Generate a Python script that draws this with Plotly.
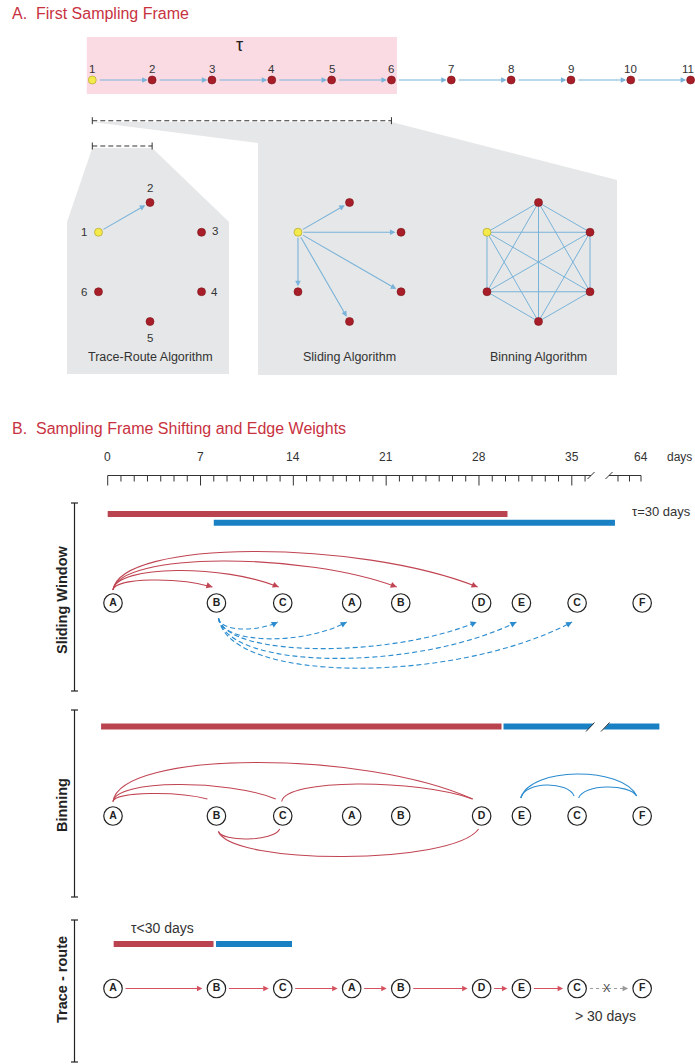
import math
import plotly.graph_objects as go

W, H = 695, 1064
FONT = "Liberation Sans, Arial, sans-serif"

# ---------------- data ----------------
frame_labels = ["1", "2", "3", "4", "5", "6", "7", "8", "9", "10", "11"]
tau_window_size = 6
algo_titles = ["Trace-Route Algorithm", "Sliding Algorithm", "Binning Algorithm"]
algo_node_labels = ["1", "2", "3", "4", "5", "6"]
trace_route_edges = [(0, 1)]
sliding_edges = [(0, 1), (0, 2), (0, 3), (0, 4), (0, 5)]
binning_edges = [(i, j) for i in range(6) for j in range(i + 1, 6)]

ruler_label_days = [0, 7, 14, 21, 28, 35, 64]
ruler_tick_days_pre = list(range(0, 37))
ruler_tick_days_post = [62, 63, 64]

seq_labels = ["A", "B", "C", "A", "B", "D", "E", "C", "F"]
seq_days = [0.4, 8.2, 13.2, 18.4, 22.1, 28.2, 31.2, 35.4, 64.1]

sw_frames_days = [(0.0, 30.15), (8.0, 59.6)]          # red frame, blue frame
sw_red_source, sw_red_targets = 0, [1, 2, 4, 5]
sw_blue_source, sw_blue_targets = 1, [2, 3, 5, 6, 7]

bin_frames_days = [(-0.5, 29.7), (29.85, 65.6)]
bin_red_upper = [(0, 1), (0, 2), (0, 5), (2, 5)]
bin_red_lower = [(1, 2), (1, 5)]
bin_blue_upper = [(6, 7), (7, 8), (6, 8)]

tr_frames_days = [(0.45, 7.98), (8.17, 13.9)]
tr_links = [(0, 1), (1, 2), (2, 3), (3, 4), (4, 5), (5, 6), (6, 7)]
tr_broken_link = (7, 8)

# ---------------- style ----------------
RED_TITLE = "#c8323f"
NODE_RED = "#a81e28"
YELLOW = "#f4ea4c"
LIGHT_BLUE = "#79b3d9"
GREY_POLY = "#e6e7e8"
PINK = "#fadbe4"
BAR_RED = "#b9444f"
BAR_BLUE = "#1a80c4"
ARC_RED = "#c04452"
ARC_BLUE = "#2b8ccf"
TR_RED = "#d4525f"
TXT = "#333333"


def day_x(d):
    if d <= 36:
        return 107.7 + 13.26 * d
    if d >= 62:
        return 641.0 - 11.5 * (64 - d)
    return 585.0 + (d - 36) * (618.0 - 585.0) / 26.0


shapes = []
ann = []
fig = go.Figure()


def add_text(x, y, text, size, color=TXT, xanchor="center", yanchor="middle", angle=0):
    ann.append(dict(x=x, y=y, xref="x", yref="y", text=text, showarrow=False,
                    font=dict(size=size, color=color, family=FONT),
                    xanchor=xanchor, yanchor=yanchor, textangle=angle))


def add_arrow(x0, y0, x1, y1, color, width=1.1, size=1.0, head=2):
    ann.append(dict(x=x1, y=y1, ax=x0, ay=y0, xref="x", yref="y", axref="x", ayref="y",
                    text="", showarrow=True, arrowhead=head, arrowsize=size,
                    arrowwidth=width, arrowcolor=color, standoff=0, startstandoff=0))


def add_line(x0, y0, x1, y1, color, width=1.0, dash="solid", layer="above"):
    shapes.append(dict(type="line", x0=x0, y0=y0, x1=x1, y1=y1, xref="x", yref="y",
                       line=dict(color=color, width=width, dash=dash), layer=layer))


def add_poly(points, fill, layer="below"):
    p = "M " + " L ".join(f"{x},{y}" for x, y in points) + " Z"
    shapes.append(dict(type="path", path=p, xref="x", yref="y", fillcolor=fill,
                       line=dict(width=0), layer=layer))


def add_rect(x0, y0, x1, y1, fill, layer="below"):
    shapes.append(dict(type="rect", x0=x0, y0=y0, x1=x1, y1=y1, xref="x", yref="y",
                       fillcolor=fill, line=dict(width=0), layer=layer))


def add_curve(x0, y0, x1, y1, extreme, color, width=1.1, dash="solid", a=0.05, b=0.3, arrow=False):
    yc = (extreme - 0.125 * (y0 + y1)) / 0.75
    dxs = x1 - x0
    c1x, c2x = x0 + a * dxs, x1 - b * dxs
    shapes.append(dict(type="path", xref="x", yref="y", layer="below",
                       path=f"M {x0},{y0} C {c1x},{yc} {c2x},{yc} {x1},{y1}",
                       line=dict(color=color, width=width, dash=dash)))
    if arrow:
        tx, ty = x1 - c2x, y1 - yc
        n = math.hypot(tx, ty)
        add_arrow(x1 - tx / n * 6, y1 - ty / n * 6, x1, y1, color, width=width, size=1.1)


def bracket_h(x0, x1, y, color="#333", dash="5px,3px"):
    add_line(x0, y, x1, y, color, 1.1, dash)
    add_line(x0, y - 3.5, x0, y + 3.5, color, 1.0)
    add_line(x1, y - 3.5, x1, y + 3.5, color, 1.0)


def bracket_v(x, y0, y1):
    add_line(x, y0, x, y1, "#222", 1.2)
    add_line(x - 3.5, y0, x + 3.5, y0, "#222", 1.2)
    add_line(x - 3.5, y1, x + 3.5, y1, "#222", 1.2)


def dot_nodes(xs, ys, yellow_first=True):
    cols = [YELLOW if (i == 0 and yellow_first) else NODE_RED for i in range(len(xs))]
    lcols = ["#a89a20" if (i == 0 and yellow_first) else "#7a141a" for i in range(len(xs))]
    fig.add_trace(go.Scatter(x=xs, y=ys, mode="markers", hoverinfo="skip",
                             marker=dict(size=8, color=cols, line=dict(width=0.6, color=lcols))))


# ================= Section A =================
add_text(10, 13, "A.  First Sampling Frame", 16, RED_TITLE, xanchor="left")

FR_X0, FR_DX, FR_Y = 92.3, 59.83, 80
fx = [FR_X0 + FR_DX * i for i in range(len(frame_labels))]
fy = [FR_Y] * len(frame_labels)
add_rect(fx[0] - 5.5, 37, fx[tau_window_size - 1] + 5.5, 94, PINK)
add_text((fx[0] + fx[tau_window_size - 1]) / 2 - 2, 45, "τ", 18, "#222")
for i, lab in enumerate(frame_labels):
    lx = min(fx[i], 688)
    add_text(lx, 68.5, lab, 11.5, TXT)
for i in range(len(fx) - 1):
    add_arrow(fx[i] + 6, FR_Y, fx[i + 1] - 4.5, FR_Y, LIGHT_BLUE, width=1.1, size=1.0)
dot_nodes(fx, fy)

# grey zoom polygons
add_poly([(fx[0], 122), (fx[tau_window_size - 1], 122), (617, 180), (617, 375), (258, 375), (258, 143)], GREY_POLY)
add_poly([(fx[0], 148), (fx[1], 148), (229, 222), (229, 374), (67, 374), (67, 222)], GREY_POLY)
bracket_h(fx[0], fx[tau_window_size - 1], 120.7)
bracket_h(fx[0], fx[1], 146)

# hexagon panels
HEX_ANG = [150, 90, 30, -30, -90, -150]
PANEL_CX = [150, 349.5, 538.5]
PANEL_CY, PANEL_R = 262, 59.5


def hex_pos(cx):
    return ([cx + PANEL_R * math.cos(math.radians(a)) for a in HEX_ANG],
            [PANEL_CY - PANEL_R * math.sin(math.radians(a)) for a in HEX_ANG])


panel_edges = [trace_route_edges, sliding_edges, binning_edges]
for p, cx in enumerate(PANEL_CX):
    hx, hy = hex_pos(cx)
    for (i, j) in panel_edges[p]:
        if p == 2:
            add_line(hx[i], hy[i], hx[j], hy[j], LIGHT_BLUE, 1.0, layer="below")
        else:
            ddx, ddy = hx[j] - hx[i], hy[j] - hy[i]
            n = math.hypot(ddx, ddy)
            add_arrow(hx[i] + ddx / n * 4, hy[i] + ddy / n * 4,
                      hx[j] - ddx / n * 5.5, hy[j] - ddy / n * 5.5, LIGHT_BLUE, 1.1, 1.0)
    dot_nodes(hx, hy)
    add_text(cx, 357, algo_titles[p], 12.5, TXT)

# trace-route node numbers
hx, hy = hex_pos(PANEL_CX[0])
lab_off = [(-14, 0), (0, -15), (13, -1), (13, 0), (0, 16), (-14, 0)]
for k, lab in enumerate(algo_node_labels):
    add_text(hx[k] + lab_off[k][0], hy[k] + lab_off[k][1], lab, 11.5, TXT)

# ================= Section B =================
add_text(10, 428, "B.  Sampling Frame Shifting and Edge Weights", 16, RED_TITLE, xanchor="left")

# ruler
R_Y = 475.5
BREAK = (591.0, 609.0)
add_line(day_x(0), R_Y, BREAK[0], R_Y, "#333", 1.0)
add_line(BREAK[1], R_Y, day_x(64), R_Y, "#333", 1.0)
for d in ruler_tick_days_pre + ruler_tick_days_post:
    ln = 10 if (d % 7 == 0 and d <= 35) else 6
    add_line(day_x(d), R_Y, day_x(d), R_Y + ln, "#333", 1.0)
for bx in BREAK:
    add_line(bx - 3.5, R_Y + 3.5, bx + 3.5, R_Y - 3.5, "#333", 1.0)
for d in ruler_label_days:
    add_text(day_x(d), 457, str(d), 12, TXT)
add_text(665, 457, "days", 12, TXT, xanchor="left")

seq_x = [day_x(d) for d in seq_days]

# row labels & brackets
BR_X = 74.5
bracket_v(BR_X, 503, 691)
bracket_v(BR_X, 710, 897)
bracket_v(BR_X, 920, 1062)
add_text(62, 600, "<b>Sliding Window</b>", 14.5, "#222", angle=-90)
add_text(62, 805, "<b>Binning</b>", 14.5, "#222", angle=-90)
add_text(62, 980, "<b>Trace - route</b>", 14.5, "#222", angle=-90)


def circle_nodes(y):
    fig.add_trace(go.Scatter(
        x=seq_x, y=[y] * len(seq_x), mode="markers+text", text=[f"<b>{s}</b>" for s in seq_labels],
        textposition="middle center", hoverinfo="skip",
        textfont=dict(size=10.5, color="#222", family=FONT),
        marker=dict(size=18.5, color="white", line=dict(width=1.2, color="#222"))))


# --- sliding window ---
SW_NODE_Y = 603
SW_BAR_Y = [514, 522.7]
for k, (d0, d1) in enumerate(sw_frames_days):
    add_rect(day_x(d0), SW_BAR_Y[k] - 3, day_x(d1), SW_BAR_Y[k] + 3, [BAR_RED, BAR_BLUE][k])
add_text(630, 511.5, "τ=30 days", 13, TXT, xanchor="left")

sx0, sy0 = seq_x[sw_red_source], SW_NODE_Y - 13
for k, t in enumerate(sw_red_targets):
    add_curve(sx0, sy0, seq_x[t] - 4, SW_NODE_Y - 16, sy0 - (10 + 9.5 * k), ARC_RED, 1.1,
              a=0.02, b=0.33, arrow=True)
bx0, by0 = seq_x[sw_blue_source] + 2, SW_NODE_Y + 15
for k, t in enumerate(sw_blue_targets):
    add_curve(bx0, by0, seq_x[t] - 5, SW_NODE_Y + 19, by0 + (11 + 9.8 * k), ARC_BLUE, 1.1,
              dash="5px,3px", a=0.03, b=0.33, arrow=True)
circle_nodes(SW_NODE_Y)

# --- binning ---
BIN_NODE_Y = 816
BIN_BAR_Y = 726.5
r0, r1 = bin_frames_days[0]
add_rect(day_x(r0), BIN_BAR_Y - 3, day_x(r1), BIN_BAR_Y + 3, BAR_RED)
b0, b1 = bin_frames_days[1]
add_poly([(day_x(b0), BIN_BAR_Y - 3), (594, BIN_BAR_Y - 3), (588, BIN_BAR_Y + 3), (day_x(b0), BIN_BAR_Y + 3)],
         BAR_BLUE)
add_poly([(609, BIN_BAR_Y - 3), (day_x(b1), BIN_BAR_Y - 3), (day_x(b1), BIN_BAR_Y + 3), (603, BIN_BAR_Y + 3)],
         BAR_BLUE)
add_line(586, BIN_BAR_Y + 5, 594.5, BIN_BAR_Y - 4, "#333", 1.0)
add_line(601, BIN_BAR_Y + 5, 609.5, BIN_BAR_Y - 4, "#333", 1.0)

bin_upper_h = {(0, 1): 8, (0, 2): 17, (0, 5): 39, (2, 5): 17.5}
bin_upper_off = {(0, 1): (0, -9), (0, 2): (0, -7), (0, 5): (0, -9), (2, 5): (-1, -9)}
for (i, j) in bin_red_upper:
    o0, o1 = bin_upper_off[(i, j)]
    y0, y1 = BIN_NODE_Y - 14.5, BIN_NODE_Y - 17
    add_curve(seq_x[i] + o0, y0, seq_x[j] + o1, y1, y0 - bin_upper_h[(i, j)], ARC_RED, 1.1, a=0.02, b=0.3)
bin_lower_depth = {(1, 2): 7.5, (1, 5): 25}
for (i, j) in bin_red_lower:
    y0, y1 = BIN_NODE_Y + 15.5, BIN_NODE_Y + 13
    add_curve(seq_x[i] + 2, y0, seq_x[j] - 3, y1, y0 + bin_lower_depth[(i, j)], ARC_RED, 1.1, a=0.05, b=0.1)
bin_blue_h = {(6, 7): 13, (7, 8): 11, (6, 8): 24}
bin_blue_off = {(6, 7): (-0.7, -3), (7, 8): (1.5, -5.5), (6, 8): (-0.7, -5.5)}
for (i, j) in bin_blue_upper:
    o0, o1 = bin_blue_off[(i, j)]
    y0, y1 = BIN_NODE_Y - 18, BIN_NODE_Y - 20
    add_curve(seq_x[i] + o0, y0, seq_x[j] + o1, y1, y0 - bin_blue_h[(i, j)], ARC_BLUE, 1.1, a=0.08, b=0.12)
circle_nodes(BIN_NODE_Y)

# --- trace route ---
TR_NODE_Y = 988.5
TR_BAR_Y = 944
for k, (d0, d1) in enumerate(tr_frames_days):
    add_rect(day_x(d0), TR_BAR_Y - 3, day_x(d1), TR_BAR_Y + 3, [BAR_RED, BAR_BLUE][k])
add_text(162, 928, "τ<30 days", 14, TXT)
for (i, j) in tr_links:
    add_arrow(seq_x[i] + 11, TR_NODE_Y, seq_x[j] - 14, TR_NODE_Y, TR_RED, 1.1, 1.0)
i, j = tr_broken_link
add_line(seq_x[i] + 13, TR_NODE_Y, seq_x[j] - 19, TR_NODE_Y, "#999", 1.1, "dot")
add_arrow(seq_x[j] - 21, TR_NODE_Y, seq_x[j] - 14, TR_NODE_Y, "#999", 1.1, 1.0)
add_text((seq_x[i] + seq_x[j]) / 2 - 3, TR_NODE_Y - 1, "X", 11, "#444")
add_text(605, 1015.5, "> 30 days", 14, TXT)
circle_nodes(TR_NODE_Y)

fig.update_layout(
    width=W, height=H, margin=dict(l=0, r=0, t=0, b=0),
    paper_bgcolor="white", plot_bgcolor="white", showlegend=False,
    xaxis=dict(range=[0, W], visible=False, fixedrange=True),
    yaxis=dict(range=[H, 0], visible=False, fixedrange=True),
    shapes=shapes, annotations=ann,
)
fig.write_html(
    "out.html",
    config={"displayModeBar": False},
    post_script="document.body.style.margin='0';document.body.style.overflow='hidden';",
)
